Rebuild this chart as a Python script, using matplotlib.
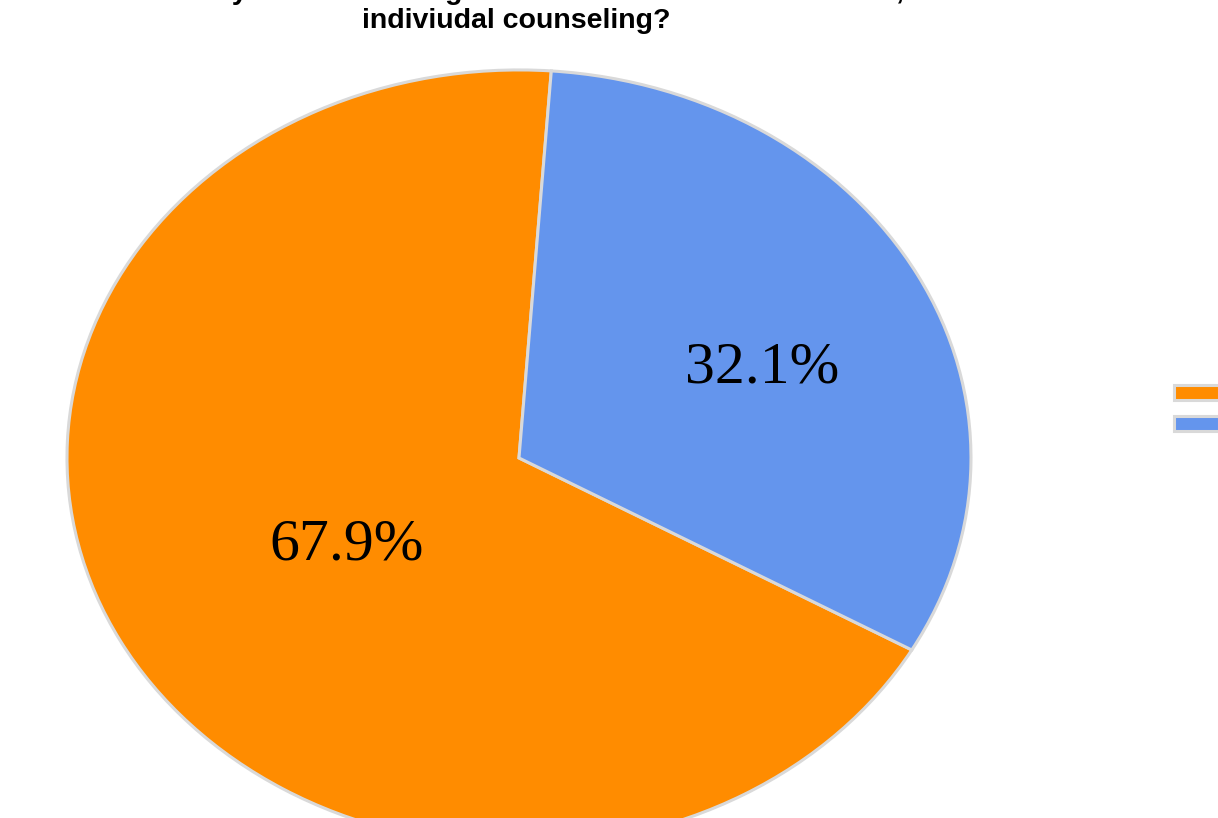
import numpy as np
import matplotlib.pyplot as plt

# data ------------------------------------------------------------------------
title_top = "In the last year did the drug abuse staff at the Health Center, or"
title_bottom = "indiviudal counseling?"
categories = ["Yes", "No"]
shares = [67.9, 32.1]
colors = ["#FF8C00", "#6495ED"]

# label placement per slice: radius fraction and a nudge in pixels
label_r = [0.44, 0.60]
label_nudge = [(3, -7), (4, -20)]

fig = plt.figure(figsize=(12.18, 8.18), dpi=100)
fig.patch.set_facecolor("white")

# pie axes stretched so the pie becomes an ellipse, as in the reference
ax = fig.add_axes([0.055, -0.0342, 0.7422, 0.9487])
wedges, texts = ax.pie(
    shares, colors=colors, startangle=85.9, counterclock=True,
    radius=1.0,
    wedgeprops=dict(edgecolor="#D9D9D9", linewidth=2.2))
ax.set_aspect("auto")
ax.set_xlim(-1, 1)
ax.set_ylim(-1, 1)
ax.axis("off")

for w, share, r, nudge in zip(wedges, shares, label_r, label_nudge):
    mid = np.deg2rad((w.theta1 + w.theta2) / 2)
    ax.annotate(f"{share:.1f}%", (r * np.cos(mid), r * np.sin(mid)),
                xytext=nudge, textcoords="offset pixels",
                ha="center", va="center", fontsize=43,
                family="Liberation Serif", color="black")

# title: first line mostly cut off by the top edge
fig.text(0.4236, 1.0 + 1 / 818, title_top, ha="center", va="baseline",
         fontsize=20.5, fontweight="bold", family="Liberation Sans")
fig.text(0.4236, 1.0 - 28 / 818, title_bottom, ha="center", va="baseline",
         fontsize=20.5, fontweight="bold", family="Liberation Sans")

fig.legend(handles=wedges, labels=categories, loc="upper left",
           bbox_to_anchor=(1174 / 1218, 1 - 384 / 818), frameon=False,
           fontsize=12, handlelength=2.7, handleheight=1.0,
           labelspacing=0.8, borderpad=0, borderaxespad=0,
           handletextpad=0.6)

fig.savefig("out.png", dpi=100)
